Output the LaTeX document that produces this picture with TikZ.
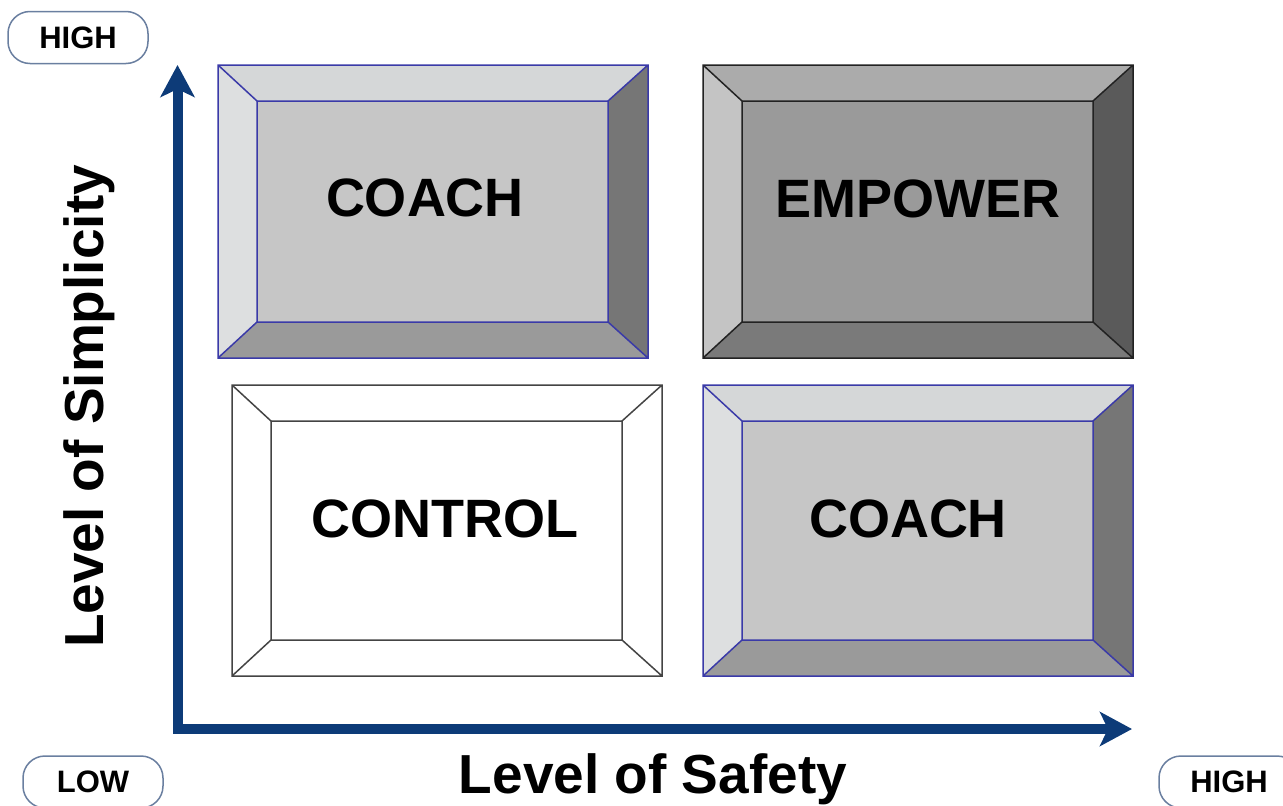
\documentclass[tikz,border=0pt]{standalone}
\usepackage{fontspec}
\setmainfont{Liberation Sans}
\usepackage{tikz}
\usetikzlibrary{positioning,arrows.meta}
\tikzset{>=stealth}

\definecolor{axisblue}{HTML}{0D3B78}
\definecolor{pillblue}{HTML}{6A7FA0}
\definecolor{coachTop}{HTML}{D5D7D8}
\definecolor{coachLeft}{HTML}{DDDFE0}
\definecolor{coachFront}{HTML}{C6C6C6}
\definecolor{coachRight}{HTML}{767676}
\definecolor{coachBottom}{HTML}{9A9A9A}
\definecolor{coachEdge}{HTML}{3A3AA8}
\definecolor{empTop}{HTML}{ABABAB}
\definecolor{empLeft}{HTML}{C4C4C4}
\definecolor{empFront}{HTML}{9A9A9A}
\definecolor{empRight}{HTML}{5A5A5A}
\definecolor{empBottom}{HTML}{7A7A7A}
\definecolor{empEdge}{HTML}{222222}
\definecolor{ctrlTop}{HTML}{FFFFFF}
\definecolor{ctrlLeft}{HTML}{FFFFFF}
\definecolor{ctrlFront}{HTML}{FFFFFF}
\definecolor{ctrlRight}{HTML}{FFFFFF}
\definecolor{ctrlBottom}{HTML}{FFFFFF}
\definecolor{ctrlEdge}{HTML}{444444}

\tikzset{
    axis/.style={line width=10pt, draw=axisblue, line join=miter},
    pill/.style={draw=pillblue, line width=1.5pt, rounded corners=22pt,
        minimum width=140pt, minimum height=52pt,
        font=\fontsize{31}{31}\selectfont\bfseries},
    boxlabel/.style={font=\fontsize{54}{54}\selectfont\bfseries},
    axistitle/.style={font=\fontsize{55}{55}\selectfont\bfseries},
}

\begin{document}
\begin{tikzpicture}[x=1pt,y=-1pt]
    \useasboundingbox (0,0) rectangle (1283,806);
    % draw the bevelled boxes
    \foreach \x/\y/\X/\Y/\pal in {218/65/648/358/coach, 703/65/1133/358/emp,
                                  232/385/662/676/ctrl, 703/385/1133/676/coach} {
        \fill[\pal Top] (\x,\y) -- (\X,\y) -- (\X-40,\y+36) -- (\x+39,\y+36) -- cycle;
        \fill[\pal Left] (\x,\y) -- (\x+39,\y+36) -- (\x+39,\Y-36) -- (\x,\Y) -- cycle;
        \fill[\pal Right] (\X,\y) -- (\X,\Y) -- (\X-40,\Y-36) -- (\X-40,\y+36) -- cycle;
        \fill[\pal Bottom] (\x,\Y) -- (\x+39,\Y-36) -- (\X-40,\Y-36) -- (\X,\Y) -- cycle;
        \fill[\pal Front] (\x+39,\y+36) rectangle (\X-40,\Y-36);
        \draw[\pal Edge, line width=1.5pt] (\x,\y) rectangle (\X,\Y)
            (\x+39,\y+36) rectangle (\X-40,\Y-36)
            (\x,\y) -- (\x+39,\y+36) (\X,\y) -- (\X-40,\y+36)
            (\x,\Y) -- (\x+39,\Y-36) (\X,\Y) -- (\X-40,\Y-36);
    }
    % set up the nodes
    \node[boxlabel] (coachhi) at (425,198) {COACH};
    \node[boxlabel] (empower) at (918,199) {EMPOWER};
    \node[boxlabel] (control) at (445,519) {CONTROL};
    \node[boxlabel] (coachlo) at (908,519) {COACH};
    \node[pill] (highy) at (78,37.5) {HIGH};
    \node[pill] (low) at (93,782) {LOW};
    \node[pill] (highx) at (1229,782) {HIGH};
    \node[axistitle, anchor=base] (safety) at (653,793) {Level of Safety};
    \node[axistitle, anchor=base, rotate=90] (simplicity) at (103,406.5) {Level of Simplicity};
    % draw the axes
    \coordinate (origin) at (177.5,729);
    \coordinate (ytip) at (177.5,65);
    \coordinate (xtip) at (1132,729);
    \draw[axis, {Stealth[length=32pt,width=34pt,inset=8pt]}-{Stealth[length=32pt,width=34pt,inset=8pt]}]
        (ytip) -- (origin) -- (xtip);
\end{tikzpicture}
\end{document}
